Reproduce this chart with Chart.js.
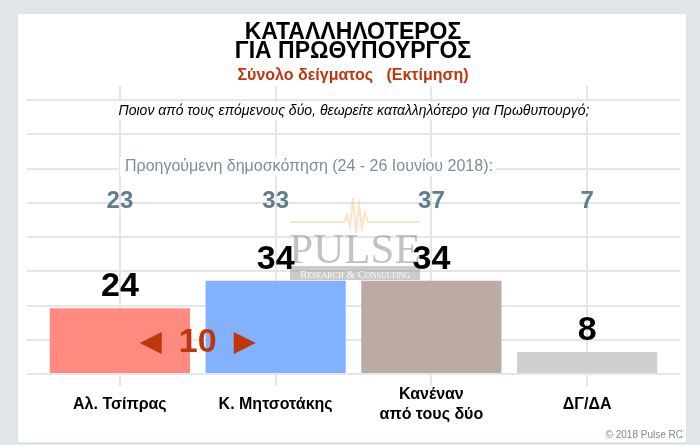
<!DOCTYPE html>
<html>
<head>
<meta charset="utf-8">
<script src="https://cdn.jsdelivr.net/npm/chart.js@4"></script>
<style>
  html, body { margin: 0; padding: 0; background: #dfe5e8; }
  #c { display: block; }
</style>
</head>
<body>
<canvas id="c" width="700" height="445"></canvas>
<script>
// ---- data ----
const categories = ['Αλ. Τσίπρας', 'Κ. Μητσοτάκης', ['Κανέναν', 'από τους δύο'], 'ΔΓ/ΔΑ'];
const currentValues = [24, 34, 34, 8];
const previousValues = [23, 33, 37, 7];
const barColors = ['#FF8A80', '#82B1FF', '#BCAAA4', '#CFCFCF'];
const titleLines = ['ΚΑΤΑΛΛΗΛΟΤΕΡΟΣ', 'ΓΙΑ ΠΡΩΘΥΠΟΥΡΓΟΣ'];
const subtitleText = 'Σύνολο δείγματος   (Εκτίμηση)';
const questionText = 'Ποιον από τους επόμενους δύο, θεωρείτε καταλληλότερο για Πρωθυπουργό;';
const previousHeader = 'Προηγούμενη δημοσκόπηση (24 - 26 Ιουνίου 2018):';
const copyrightText = '© 2018 Pulse RC';
const axisMin = 0, axisMax = 100, axisStep = 12.5;

const SANS = '"Liberation Sans", Arial, sans-serif';
const GRID = '#e6e6e6';

const deco = {
  id: 'deco',
  beforeDraw(chart) {
    const c = chart.ctx;
    c.save();
    c.fillStyle = '#dfe5e8';
    c.fillRect(0, 0, chart.width, chart.height);
    c.fillStyle = '#ffffff';
    c.fillRect(18, 14, 668, 428);
    c.restore();
  },
  beforeDatasetsDraw(chart) {
    const c = chart.ctx;
    const meta = chart.getDatasetMeta(0);
    c.save();
    // title
    c.textAlign = 'center';
    c.textBaseline = 'alphabetic';
    c.fillStyle = '#000';
    c.font = 'bold 23px ' + SANS;
    c.fillText(titleLines[0], 353, 38.5);
    c.fillText(titleLines[1], 353, 58);
    c.font = 'bold 16px ' + SANS;
    c.fillStyle = '#BF360C';
    c.fillText(subtitleText, 353, 79.5);
    // question
    c.font = 'italic 14px ' + SANS;
    let w = c.measureText(questionText).width;
    c.fillStyle = '#fff';
    c.fillRect(353 - w / 2 - 5, 102, w + 10, 18);
    c.fillStyle = '#000';
    c.textBaseline = 'middle';
    c.fillText(questionText, 354, 111.5);
    // previous header
    c.font = '16px ' + SANS;
    c.textAlign = 'left';
    w = c.measureText(previousHeader).width;
    c.fillStyle = '#fff';
    c.fillRect(120, 157, w + 8, 19);
    c.fillStyle = '#78909C';
    c.fillText(previousHeader, 125, 166.5);
    // previous values
    c.textAlign = 'center';
    c.font = 'bold 24px ' + SANS;
    c.fillStyle = '#607D8B';
    previousValues.forEach((v, i) => {
      c.fillText(String(v), meta.data[i].x, 201);
    });
    c.restore();
  },
  afterDatasetsDraw(chart) {
    const c = chart.ctx;
    const meta = chart.getDatasetMeta(0);
    c.save();
    // watermark
    const cx = 355;
    c.strokeStyle = 'rgba(246, 196, 120, 0.45)';
    c.lineWidth = 2;
    c.beginPath();
    const pts = [[290,222],[344,222],[347,215],[350,227],[353,198],[356,233],[359,204],[362,228],[365,213],[368,222],[420,222]];
    pts.forEach((p, i) => i ? c.lineTo(p[0], p[1]) : c.moveTo(p[0], p[1]));
    c.stroke();
    c.fillStyle = 'rgba(120,120,120,0.45)';
    c.font = '43px "Liberation Serif", "Times New Roman", serif';
    c.textAlign = 'center';
    c.textBaseline = 'alphabetic';
    c.fillText('PULSE', cx, 263);
    c.fillStyle = 'rgba(140,140,140,0.45)';
    c.fillRect(290, 266, 130, 14);
    c.fillStyle = 'rgba(255,255,255,0.9)';
    c.font = 'small-caps 11px "Liberation Serif", serif';
    c.fillText('Research & Consulting', cx, 277.5);
    // current values
    c.fillStyle = '#000';
    c.font = 'bold 34px ' + SANS;
    currentValues.forEach((v, i) => {
      const el = meta.data[i];
      c.fillText(String(v), el.x, el.y - 12);
    });
    // lead indicator
    const lead = currentValues[1] - currentValues[0];
    const mx = (meta.data[0].x + meta.data[1].x) / 2;
    const my = 343;
    c.fillStyle = '#BF360C';
    c.textBaseline = 'middle';
    c.font = 'bold 34px ' + SANS;
    c.fillText(String(lead), mx, my);
    c.beginPath();
    c.moveTo(mx - 58, my); c.lineTo(mx - 36, my - 11); c.lineTo(mx - 36, my + 11); c.closePath();
    c.fill();
    c.beginPath();
    c.moveTo(mx + 58, my); c.lineTo(mx + 36, my - 11); c.lineTo(mx + 36, my + 11); c.closePath();
    c.fill();
    // copyright
    c.font = '10px ' + SANS;
    c.fillStyle = '#888';
    c.textAlign = 'right';
    c.textBaseline = 'alphabetic';
    c.fillText(copyrightText, 683, 438);
    c.restore();
  }
};

new Chart(document.getElementById('c'), {
  type: 'bar',
  data: {
    labels: categories,
    datasets: [{
      data: currentValues,
      backgroundColor: barColors,
      borderWidth: 0,
      categoryPercentage: 0.9,
      barPercentage: 1.0
    }]
  },
  options: {
    responsive: false,
    animation: false,
    devicePixelRatio: 1,
    layout: { padding: { left: 27, right: 20, top: 86, bottom: 1 } },
    plugins: { legend: { display: false }, tooltip: { enabled: false }, title: { display: false } },
    scales: {
      x: {
        type: 'category',
        position: 'bottom',
        offset: true,
        grid: { display: true, offset: false, color: GRID, lineWidth: 2, tickLength: 12, drawOnChartArea: true },
        border: { display: false },
        ticks: {
          color: '#000',
          font: { family: SANS, size: 16, weight: 'bold', lineHeight: '20px' },
          padding: 9,
          crossAlign: 'center',
          autoSkip: false,
          maxRotation: 0
        }
      },
      xTop: {
        type: 'category',
        labels: categories,
        position: 'top',
        offset: true,
        grid: { display: true, offset: false, color: GRID, lineWidth: 2, tickLength: 14, drawOnChartArea: false },
        border: { display: false },
        ticks: { display: false }
      },
      y: {
        type: 'linear',
        position: 'left',
        min: axisMin, max: axisMax,
        grid: { color: GRID, lineWidth: 2, tickLength: 15 },
        border: { display: false },
        ticks: { display: false, stepSize: axisStep }
      },
      y2: {
        type: 'linear',
        position: 'right',
        min: axisMin, max: axisMax,
        grid: { color: GRID, lineWidth: 2, tickLength: 15, drawOnChartArea: false },
        border: { display: false },
        ticks: { display: false, stepSize: axisStep }
      }
    }
  },
  plugins: [deco]
});
</script>
</body>
</html>
